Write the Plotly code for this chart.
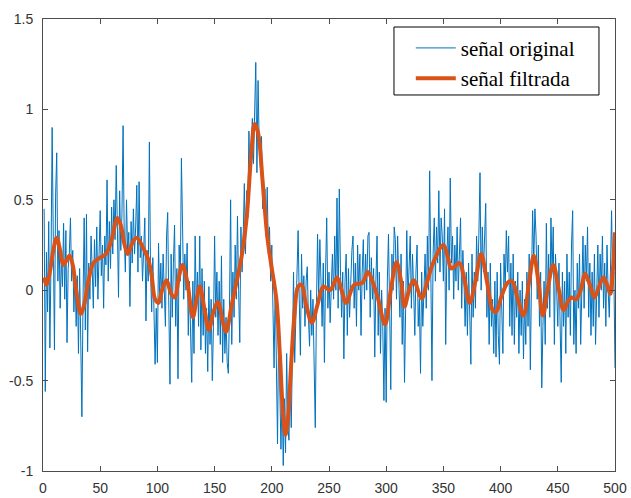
import plotly.graph_objects as go

# ---- data ----
original = [
 0.45,-0.56,0.21,-0.12,0.38,-0.32,0.15,0.9,0.28,-0.33,
 0.52,0.76,0.05,0.33,-0.1,0.18,0.02,0.37,-0.05,0.33,
 -0.29,0.12,0.2,0.4,0.05,0.22,-0.12,0.1,-0.2,0.08,
 -0.35,0.12,-0.28,-0.7,-0.05,0.4,-0.22,0.42,-0.34,0.15,
 -0.05,0.3,0.12,-0.1,0.28,0.02,0.35,-0.05,0.2,0.44,
 0.08,0.25,-0.1,0.3,0.14,0.61,0.05,0.38,0.12,0.46,
 0.2,0.5,0.28,0.69,0.35,-0.04,0.55,0.22,0.42,0.91,
 0.3,0.1,0.5,0.2,0.32,-0.09,0.38,0.15,0.45,0.2,
 0.35,0.58,0.1,0.6,0.18,0.3,0.05,0.25,0.4,-0.17,
 0.22,0.05,0.82,0.1,-0.12,0.18,-0.25,-0.41,-0.1,-0.4,
 0.26,-0.05,0.15,-0.1,0.2,0.05,-0.2,0.3,0.43,-0.1,
 -0.52,0.2,-0.15,0.15,0.36,-0.2,0.12,-0.49,0.25,0.05,
 0.73,0.35,-0.05,0.2,0.0,0.26,-0.25,0.05,-0.2,-0.51,
 0.05,-0.35,0.3,-0.1,0.1,-0.2,0.3,-0.33,0.12,-0.25,
 0.05,-0.35,-0.1,-0.45,0.02,-0.3,-0.05,-0.5,-0.2,0.3,
 -0.15,0.1,-0.25,0.05,-0.3,0.19,-0.4,-0.05,-0.35,-0.15,
 -0.4,-0.46,-0.1,0.5,-0.3,0.1,-0.15,0.25,-0.05,0.41,
 0.0,-0.29,0.35,0.1,0.3,0.59,0.2,0.55,0.4,0.88,
 0.6,0.85,0.95,0.7,1.05,1.26,0.65,1.16,0.8,0.68,
 0.85,0.45,0.5,0.56,0.3,0.57,0.2,0.35,0.05,0.25,
 -0.1,-0.43,0.05,-0.3,-0.85,-0.2,-0.6,-0.88,-0.55,-0.97,
 -0.6,-0.9,-0.35,-0.75,-0.83,-0.5,-0.76,-0.3,0.1,-0.4,
 -0.1,0.15,0.33,-0.05,-0.36,0.2,-0.1,0.08,-0.2,0.05,
 0.13,-0.15,-0.31,0.0,-0.25,-0.05,-0.35,-0.76,-0.1,0.31,
 -0.05,0.28,0.05,-0.2,0.15,-0.4,0.1,0.4,-0.1,0.1,
 -0.18,0.05,0.2,-0.05,0.3,0.0,0.51,-0.1,0.56,0.12,
 -0.15,0.1,-0.38,0.05,0.2,-0.25,0.12,-0.15,0.05,0.22,
 0.3,-0.1,0.15,-0.2,0.25,0.0,0.2,-0.25,0.1,0.28,
 -0.05,0.2,0.0,0.3,0.32,-0.15,0.18,-0.05,0.12,-0.37,
 0.05,0.3,-0.25,0.1,-0.35,0.0,-0.2,-0.61,-0.1,-0.62,
 0.05,0.31,-0.1,-0.55,0.2,0.0,0.35,0.28,-0.05,0.3,
 0.05,-0.15,0.2,-0.3,0.05,-0.51,-0.1,0.33,-0.05,0.15,
 0.3,-0.1,0.2,0.0,-0.25,0.1,0.25,-0.2,-0.05,-0.46,
 0.1,-0.2,0.05,0.2,-0.1,0.3,0.0,0.66,0.1,-0.5,
 0.2,0.4,0.05,0.35,0.15,0.55,0.1,0.4,0.3,0.05,
 0.45,-0.3,0.2,0.35,0.0,0.62,0.15,0.3,-0.05,0.25,
 0.05,0.35,0.0,0.2,0.4,-0.1,0.22,0.05,-0.2,0.1,
 -0.25,0.15,-0.1,-0.41,0.2,-0.15,0.1,-0.1,0.3,0.05,
 0.3,0.65,0.0,0.35,0.1,0.25,0.48,-0.15,0.1,-0.3,
 0.15,-0.2,-0.05,-0.35,0.05,-0.37,0.1,-0.25,-0.41,0.15,
 -0.1,-0.35,0.2,0.0,0.33,0.1,0.3,-0.2,0.15,-0.25,
 0.2,-0.3,0.05,-0.15,0.1,-0.35,0.0,-0.25,0.05,-0.38,
 -0.05,-0.3,0.1,-0.2,0.2,-0.44,0.05,0.44,0.15,0.45,
 0.3,-0.05,0.25,-0.2,0.1,-0.54,-0.2,0.05,-0.3,0.37,
 -0.1,0.2,-0.15,0.4,0.1,0.35,-0.3,0.2,0.0,-0.2,
 0.15,-0.3,-0.51,0.1,-0.2,0.05,-0.35,0.2,-0.15,0.1,
 -0.25,0.25,0.44,-0.3,0.0,-0.35,0.15,-0.1,0.2,-0.3,
 0.1,0.3,-0.1,0.25,0.05,0.35,-0.15,0.15,-0.25,0.1,
 -0.2,0.2,-0.3,0.05,0.25,-0.15,0.2,0.0,0.3,-0.1,
 0.15,-0.2,0.25,0.0,-0.15,0.1,0.44,0.05,0.1,-0.43,
]
sample_idx = list(range(1, len(original) + 1))

filt_x = [1,3,6,9,12,15,18,23,26,29,33,36,40,44,50,55,60,65,68,71,74,78,82,87,92,95,98,101,104,108,
          112,115,119,122,126,131,134,137,141,145,149,153,157,160,165,170,174,178,182,185,188,192,196,200,
          204,207,210,212,214,217,220,223,226,230,235,240,245,251,257,261,265,272,279,284,288,293,299,
          304,309,313,316,320,324,331,336,341,350,354,357,364,368,373,378,383,388,393,396,401,406,410,
          415,420,425,429,433,437,441,446,451,455,459,462,466,470,474,478,482,486,490,493,496,498,500]
filt_y = [0.07,0.03,0.1,0.22,0.29,0.22,0.14,0.19,0.14,0.0,-0.13,-0.08,0.06,0.15,0.18,0.2,0.28,0.4,0.36,0.26,
          0.2,0.26,0.29,0.24,0.17,0.08,-0.05,-0.07,0.0,0.055,-0.02,-0.04,0.08,0.14,0.05,-0.15,-0.06,0.02,
          -0.1,-0.22,-0.12,-0.065,-0.17,-0.23,-0.08,0.07,0.2,0.4,0.75,0.92,0.87,0.6,0.3,0.12,-0.05,-0.35,
          -0.7,-0.8,-0.72,-0.4,-0.12,0.02,0.03,-0.08,-0.18,-0.08,0.02,0.0,0.07,0.0,-0.07,0.03,0.04,0.1,
          0.05,-0.05,-0.19,0.0,0.155,0.05,-0.09,0.0,0.055,-0.045,0.05,0.15,0.25,0.18,0.12,0.15,0.07,-0.07,
          0.05,0.2,0.05,-0.11,-0.12,-0.03,0.04,0.05,-0.05,-0.14,0.05,0.19,0.05,-0.14,0.0,0.14,0.0,-0.11,
          -0.06,-0.04,-0.05,0.0,0.09,0.03,-0.04,0.02,0.07,0.03,-0.02,0.1,0.32]

x_ticks = [0, 50, 100, 150, 200, 250, 300, 350, 400, 450, 500]
y_ticks = [-1, -0.5, 0, 0.5, 1, 1.5]
y_tick_text = ["-1", "-0.5", "0", "0.5", "1", "1.5"]

fig = go.Figure()
fig.add_trace(go.Scatter(x=sample_idx, y=original, mode="lines", name="señal original",
                         line=dict(color="#0072BD", width=1)))
fig.add_trace(go.Scatter(x=filt_x, y=filt_y, mode="lines", name="señal filtrada",
                         line=dict(color="#D95319", width=4, shape="spline", smoothing=1.0)))

axis_common = dict(showgrid=False, zeroline=False, showline=True, linecolor="#4d4d4d", linewidth=1,
                   mirror="ticks", ticks="inside", ticklen=5, tickcolor="#4d4d4d", automargin=False,
                   tickfont=dict(family="Liberation Sans, Arial", size=14, color="#333333"))

# legend frame (MATLAB-style box with more padding than plotly's own)
fig.add_shape(type="rect", xref="paper", yref="paper", x0=0.6136, x1=0.9720, y0=0.8319, y1=0.9823,
              line=dict(color="black", width=1), fillcolor="white", layer="above")

fig.update_layout(
    width=631, height=498,
    margin=dict(l=43, r=16, t=19, b=27, autoexpand=False),
    paper_bgcolor="white", plot_bgcolor="white",
    xaxis=dict(range=[0, 500], tickvals=x_ticks, ticklabelstandoff=4, **axis_common),
    yaxis=dict(range=[-1, 1.5], tickvals=y_ticks, ticktext=y_tick_text, ticklabelstandoff=6, **axis_common),
    legend=dict(x=0.643, y=0.9806, xanchor="left", yanchor="top",
                borderwidth=0, bgcolor="rgba(0,0,0,0)",
                font=dict(family="Liberation Serif, Times New Roman", size=21, color="black"),
                tracegroupgap=0, itemwidth=40),
    showlegend=True,
)

fig.write_html("out.html")
